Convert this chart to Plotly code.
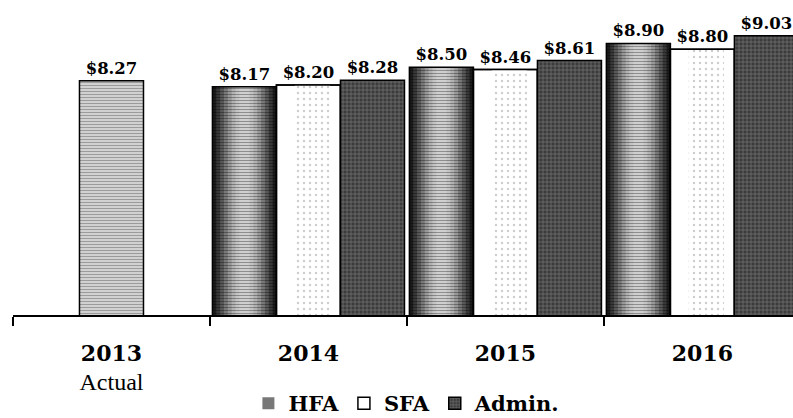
import plotly.graph_objects as go

# ---- data ----
YEARS = ["2013", "2014", "2015", "2016"]
YEAR_NOTES = ["Actual", "", "", ""]
ACTUAL_2013 = [8.27]
HFA = [8.17, 8.50, 8.90]
SFA = [8.20, 8.46, 8.80]
ADMIN = [8.28, 8.61, 9.03]
PROJ_YEARS = YEARS[1:]

BAR_W = 0.325
LABEL_FONT = dict(family="DejaVu Serif", size=16.5, color="black")
TEMPLATE = "<b>$%{y:.2f}</b>"

fig = go.Figure()

# 2013 actual: single light hatched bar
fig.add_trace(go.Bar(
    x=YEARS[:1], y=ACTUAL_2013, width=BAR_W, offset=-BAR_W / 2,
    marker=dict(color="#dcdcdc",
                pattern=dict(shape="-", fgcolor="#5a5a5a", bgcolor="#dcdcdc",
                             size=3, solidity=0.45),
                line=dict(color="black", width=1.5)),
    texttemplate=TEMPLATE, textposition="outside", textfont=LABEL_FONT,
    cliponaxis=False, showlegend=False, hoverinfo="skip",
))

# HFA: concentric strips give a cylinder-like shading
hfa_layers = [(1.00, "#1c1c1c"), (0.88, "#383838"), (0.76, "#585858"),
              (0.64, "#787878"), (0.52, "#989898"), (0.40, "#b2b2b2"),
              (0.28, "#c4c4c4"), (0.16, "#cfcfcf")]
for i, (frac, col) in enumerate(hfa_layers):
    w = BAR_W * frac
    fig.add_trace(go.Bar(
        x=PROJ_YEARS, y=HFA, width=w, offset=-BAR_W - w / 2,
        marker=dict(color=col, line=dict(width=0)),
        name="HFA", legendgroup="HFA", legendrank=1,
        showlegend=(i == 3), hoverinfo="skip",
    ))
fig.add_trace(go.Bar(
    x=PROJ_YEARS, y=HFA, width=BAR_W, offset=-BAR_W * 1.5,
    marker=dict(color="rgba(0,0,0,0)",
                pattern=dict(shape="-", fgcolor="black", fgopacity=0.35,
                             bgcolor="rgba(0,0,0,0)", size=3, solidity=0.3),
                line=dict(color="black", width=1.5)),
    texttemplate=TEMPLATE, textposition="outside", textfont=LABEL_FONT,
    cliponaxis=False, legendgroup="HFA", showlegend=False, hoverinfo="skip",
))

# SFA: white bar with a faint stipple in the middle
fig.add_trace(go.Bar(
    x=PROJ_YEARS, y=SFA, width=BAR_W, offset=-BAR_W / 2,
    marker=dict(color="white", line=dict(color="black", width=1.5)),
    name="SFA", legendgroup="SFA", legendrank=2, hoverinfo="skip",
))
fig.add_trace(go.Bar(
    x=PROJ_YEARS, y=SFA, width=BAR_W * 0.55, offset=-BAR_W * 0.55 / 2 + 0.02,
    marker=dict(color="white",
                pattern=dict(shape=".", fgcolor="#9a9a9a", bgcolor="white",
                             size=6, solidity=0.12),
                line=dict(width=0)),
    legendgroup="SFA", showlegend=False, hoverinfo="skip",
))
fig.add_trace(go.Bar(
    x=PROJ_YEARS, y=SFA, width=BAR_W, offset=-BAR_W / 2,
    marker=dict(color="rgba(0,0,0,0)", line=dict(color="black", width=1.5)),
    texttemplate=TEMPLATE, textposition="outside", textfont=LABEL_FONT,
    cliponaxis=False, legendgroup="SFA", showlegend=False, hoverinfo="skip",
))

# Admin: dark speckled bar
fig.add_trace(go.Bar(
    x=PROJ_YEARS, y=ADMIN, width=BAR_W, offset=BAR_W / 2,
    marker=dict(color="#3c3c3c",
                pattern=dict(shape="+", fgcolor="#b0b0b0", bgcolor="#3c3c3c",
                             size=4, solidity=0.3),
                line=dict(color="black", width=1.5)),
    texttemplate=TEMPLATE, textposition="outside", textfont=LABEL_FONT,
    cliponaxis=False, name="Admin.", legendgroup="Admin", legendrank=3,
    hoverinfo="skip",
))

tick_text = [
    f"<b>{y}</b>" + (f"<br><span style='font-family:Liberation Serif;font-size:24px'>{n}</span>" if n else "")
    for y, n in zip(YEARS, YEAR_NOTES)
]

fig.update_layout(
    width=793, height=418,
    margin=dict(l=13, r=0, t=0, b=103, autoexpand=False),
    paper_bgcolor="white", plot_bgcolor="white",
    barmode="overlay",
    showlegend=True,
    legend=dict(orientation="h", x=0.505, xanchor="center", y=-0.346,
                yanchor="bottom", traceorder="normal", maxheight=200,
                font=dict(family="DejaVu Serif", size=21, color="black",
                          weight="bold"),
                itemwidth=30, bgcolor="rgba(0,0,0,0)"),
    xaxis=dict(type="category", categoryorder="array", categoryarray=YEARS,
               range=[-0.5, 3.46], tickmode="array", tickvals=YEARS,
               ticktext=tick_text, tickson="boundaries", ticks="outside",
               ticklen=9, tickwidth=1.5, tickcolor="black",
               showline=True, linecolor="black", linewidth=1.5,
               showgrid=False, zeroline=False, ticklabelstandoff=18,
               tickfont=dict(family="DejaVu Serif", size=22, color="black")),
    yaxis=dict(range=[4.33, 9.63], visible=False, showgrid=False,
               zeroline=False),
)

fig.write_html("out.html")
